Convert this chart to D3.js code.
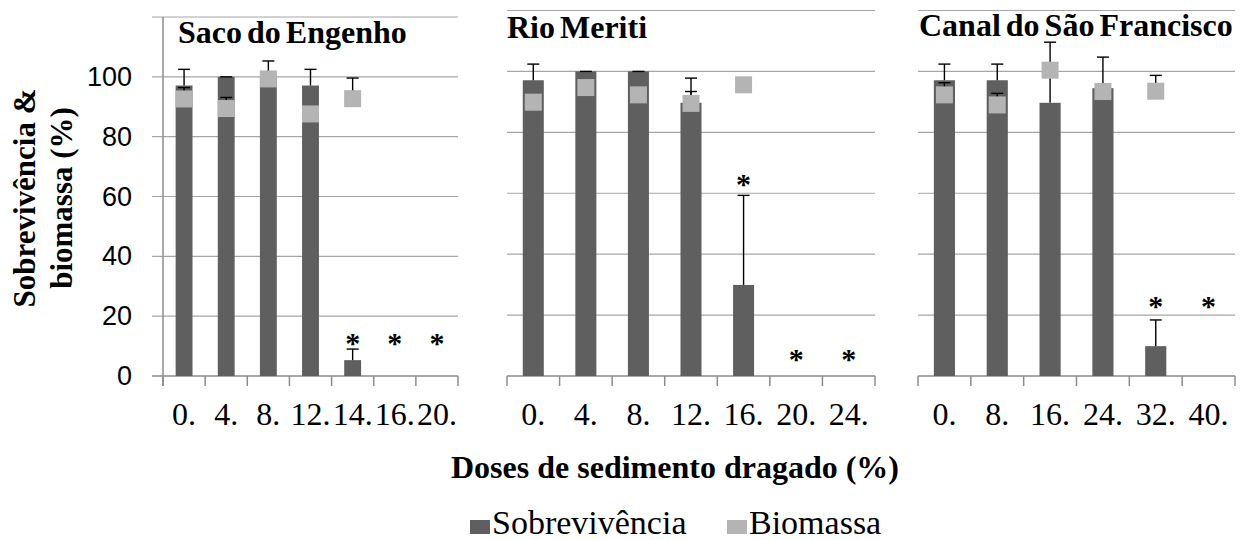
<!DOCTYPE html>
<html>
<head>
<meta charset="utf-8">
<script src="https://cdn.jsdelivr.net/npm/d3@7"></script>
<style>
  body { margin: 0; background: #fff; }
</style>
</head>
<body>
<div id="chart"></div>
<script>
// Werte
const titles = ["Saco do Engenho", "Rio Meriti", "Canal do São Francisco"];

const doses1 = ["0.", "4.", "8.", "12.", "14.", "16.", "20."];
const surv1 = [97.1, 100, 100, 97.1, 5.3, null, null];
const survErr1 = [5.4, 0, 5.3, 5.4, 3.7, 0, 0];
const bio1 = [92.6, 89.4, 99.3, 87.6, 92.7, null, null];
const bioErr1 = [3.8, 3.7, 0, 0, 6.9, 0, 0];
const star1 = [null, null, null, null, 12.4, 12.4, 12.4];

const doses2 = ["0.", "4.", "8.", "12.", "16.", "20.", "24."];
const surv2 = [97.1, 100, 100, 89.7, 29.9, null, null];
const survErr2 = [5.3, 0, 0, 8.1, 29.4, 0, 0];
const bio2 = [89.9, 94.7, 92.3, 89.5, 95.6, null, null];
const bioErr2 = [0, 0, 0, 3.9, 0, 0, 0];
const star2 = [null, null, null, null, 64.3, 6.9, 6.9];

const doses3 = ["0.", "8.", "16.", "24.", "32.", "40."];
const surv3 = [97.1, 97.1, 89.7, 94.5, 9.8, null];
const survErr3 = [5.3, 5.3, 19.9, 10.2, 8.6, 0];
const bio3 = [92.3, 89.0, 100.4, 93.4, 93.5, null];
const bioErr3 = [4.0, 3.8, 0, 0, 5.2, 0];
const star3 = [null, null, null, null, 24.4, 24.4];

const yTicks = [0, 20, 40, 60, 80, 100];
const gridTicks = [20, 40, 60, 80, 100, 120];
const legendItems = ["Sobrevivência", "Biomassa"];

const W = 1243, H = 540;
const barColor = "#5f5f5f";
const bioColor = "#b4b4b4";
const gridColor = "#a6a6a6";
const axisColor = "#8c8c8c";
const serif = "Liberation Serif";
const sans = "Liberation Sans";

const panels = [
  {title: titles[0], doses: doses1, surv: surv1, sErr: survErr1, bio: bio1, bErr: bioErr1, star: star1,
   x0: 163, x1: 458, top: 17, titleX: 178, titleY: 43, yAxis: true},
  {title: titles[1], doses: doses2, surv: surv2, sErr: survErr2, bio: bio2, bErr: bioErr2, star: star2,
   x0: 507, x1: 875, top: 10.5, titleX: 507, titleY: 38, yAxis: false},
  {title: titles[2], doses: doses3, surv: surv3, sErr: survErr3, bio: bio3, bErr: bioErr3, star: star3,
   x0: 918, x1: 1235, top: 10.5, titleX: 919, titleY: 36, yAxis: false}
];
const baseY = 376;
const markerSize = 17;
const capW = 12;

const svg = d3.select("#chart").append("svg")
  .attr("width", W)
  .attr("height", H);

panels.forEach(p => {
  const x = d3.scaleBand().domain(p.doses).range([p.x0, p.x1]);
  const y = d3.scaleLinear().domain([0, 120]).range([baseY, p.top]);
  const g = svg.append("g");
  const bw = x.bandwidth() * 0.4;
  const cx = d => x(d) + x.bandwidth() / 2;
  const gridStart = p.yAxis ? p.x0 - 11 : p.x0;

  // Gitterlinien
  g.selectAll("line.grid").data(gridTicks).join("line")
    .attr("x1", gridStart).attr("x2", p.x1)
    .attr("y1", d => y(d)).attr("y2", d => y(d))
    .attr("stroke", gridColor).attr("stroke-width", 1.2);

  // x-Achse mit Strichen an den Kategoriegrenzen
  g.append("line")
    .attr("x1", gridStart).attr("x2", p.x1)
    .attr("y1", baseY).attr("y2", baseY)
    .attr("stroke", axisColor).attr("stroke-width", 1.5);
  const bounds = p.doses.map(d => x(d)).concat([p.x1]);
  g.selectAll("line.tick").data(bounds).join("line")
    .attr("x1", d => d).attr("x2", d => d)
    .attr("y1", baseY).attr("y2", baseY + 10)
    .attr("stroke", axisColor).attr("stroke-width", 1.5);

  const xAxis = g.append("g")
    .attr("transform", `translate(0,${baseY})`)
    .call(d3.axisBottom(x).tickSize(0).tickPadding(0))
    .attr("font-family", serif)
    .attr("font-size", 32);
  xAxis.select(".domain").remove();
  xAxis.selectAll("text")
    .attr("dy", null)
    .attr("y", 49)
    .attr("fill", "#000");

  if (p.yAxis) {
    g.append("line")
      .attr("x1", p.x0).attr("x2", p.x0)
      .attr("y1", y(120)).attr("y2", baseY + 10)
      .attr("stroke", axisColor).attr("stroke-width", 1.5);
    const yAxis = g.append("g")
      .attr("transform", `translate(${p.x0 - 31},0)`)
      .call(d3.axisLeft(y).tickValues(yTicks).tickSize(0).tickPadding(0))
      .attr("font-family", sans)
      .attr("font-size", 27);
    yAxis.select(".domain").remove();
    yAxis.selectAll("text").attr("fill", "#000");
  }

  // Balken: Überleben
  const idx = d3.range(p.doses.length);
  g.selectAll("rect.bar").data(idx.filter(i => p.surv[i] != null)).join("rect")
    .attr("x", i => cx(p.doses[i]) - bw / 2)
    .attr("width", bw)
    .attr("y", i => y(p.surv[i]))
    .attr("height", i => baseY - y(p.surv[i]))
    .attr("fill", barColor);

  // Fehlerbalken (nur nach oben)
  const errs = [];
  idx.forEach(i => {
    if (p.surv[i] != null) errs.push({i, v: p.surv[i], e: p.sErr[i]});
    if (p.bio[i] != null && p.bErr[i] > 0) errs.push({i, v: p.bio[i], e: p.bErr[i]});
  });
  errs.forEach(d => {
    const c = cx(p.doses[d.i]);
    g.append("line")
      .attr("x1", c).attr("x2", c)
      .attr("y1", y(d.v)).attr("y2", y(d.v + d.e))
      .attr("stroke", "#000").attr("stroke-width", 1.4);
    g.append("line")
      .attr("x1", c - capW / 2).attr("x2", c + capW / 2)
      .attr("y1", y(d.v + d.e)).attr("y2", y(d.v + d.e))
      .attr("stroke", "#000").attr("stroke-width", 1.4);
  });

  // Marker: Biomasse
  g.selectAll("rect.bio").data(idx.filter(i => p.bio[i] != null)).join("rect")
    .attr("x", i => cx(p.doses[i]) - markerSize / 2)
    .attr("y", i => y(p.bio[i]) - markerSize / 2)
    .attr("width", markerSize).attr("height", markerSize)
    .attr("fill", bioColor);

  // Sternchen (signifikant)
  g.selectAll("text.star").data(idx.filter(i => p.star[i] != null)).join("text")
    .attr("x", i => cx(p.doses[i]))
    .attr("y", i => y(p.star[i]) + 14)
    .attr("text-anchor", "middle")
    .attr("font-family", serif)
    .attr("font-size", 30)
    .attr("font-weight", "bold")
    .text("*");

  // Titel
  g.append("text")
    .attr("x", p.titleX).attr("y", p.titleY)
    .attr("font-family", serif)
    .attr("font-size", 32)
    .attr("font-weight", "bold")
    .attr("word-spacing", -3)
    .text(p.title);
});

// y-Achsentitel
const yTitle = svg.append("text")
  .attr("transform", "translate(0,198) rotate(-90)")
  .attr("text-anchor", "middle")
  .attr("font-family", serif)
  .attr("font-size", 31)
  .attr("font-weight", "bold");
yTitle.append("tspan").attr("x", 0).attr("y", 35).text("Sobrevivência &");
yTitle.append("tspan").attr("x", 0).attr("y", 72).text("biomassa (%)");

// x-Achsentitel
svg.append("text")
  .attr("x", 675).attr("y", 478)
  .attr("text-anchor", "middle")
  .attr("font-family", serif)
  .attr("font-size", 32)
  .attr("font-weight", "bold")
  .text("Doses de sedimento dragado (%)");

// Legende
const legendX = [470, 727];
const legendColors = [barColor, bioColor];
const leg = svg.append("g");
legendItems.forEach((name, i) => {
  leg.append("rect")
    .attr("x", legendX[i]).attr("y", 520)
    .attr("width", 20).attr("height", 14)
    .attr("fill", legendColors[i]);
  leg.append("text")
    .attr("x", legendX[i] + 22).attr("y", 534)
    .attr("font-family", serif)
    .attr("font-size", 34)
    .text(name);
});
</script>
</body>
</html>
